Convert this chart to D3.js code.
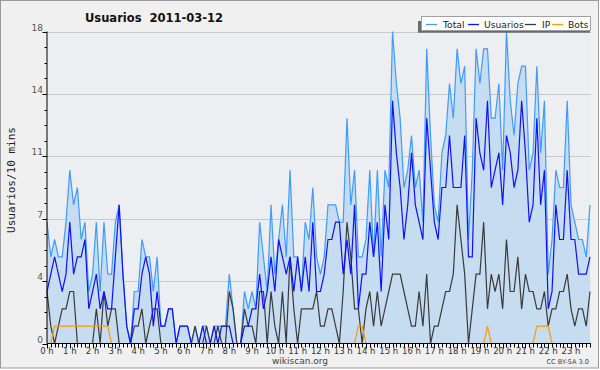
<!DOCTYPE html>
<html><head><meta charset="utf-8">
<script src="https://cdn.jsdelivr.net/npm/d3@7"></script>
<style>body{margin:0;background:#ffffff}svg{display:block}text{font-family:"DejaVu Sans",Verdana,sans-serif}</style>
</head><body><svg id="c" width="600" height="370"></svg>
<script>
const title = "Usuarios  2011-03-12";
const yLabel = "Usuarios/10 mins";
const seriesNames = ["Total", "Usuarios", "IP", "Bots"];
const hourLabels = d3.range(24).map(h => h + " h");
const yTicks = [0, 3.6, 7.2, 10.8, 14.4, 18];

const total = [
 7,5,6,5,5,7,10,8,9,6,7,3,4,7,3,7,4,4,7,8,4,1,0,3,
 3,6,5,5,3,5,1,1,2,2,0,1,1,1,0,1,0,1,1,0,1,1,1,1,
 4,2,0,0,3,2,3,2,7,5,3,8,4,6,8,5,10,5,5,3,7,6,9,5,
 4,5,8,8,8,7,7,13,8,10,5,5,6,10,5,10,5,10,9,18,15,13,9,10,
 12,9,10,7,17,12,8,7,11,12,15,13,17,15,16,6,10,17,15,17,17,13,13,15,
 10,18,14,12,15,16,16,10,11,16,11,14,4,6,10,9,9,14,8,7,6,6,5,8];
const usuarios = [
 3,4,5,4,3,4,7,4,5,5,6,2,3,4,2,3,2,2,5,8,4,1,0,2,
 2,4,5,4,1,3,1,1,2,2,0,1,1,1,0,0,0,1,0,0,1,0,1,1,
 1,0,0,0,1,1,2,2,4,2,3,5,3,6,5,4,5,3,5,3,5,3,7,3,
 3,4,6,6,7,7,4,6,4,8,2,4,4,7,5,7,3,8,6,14,11,9,6,8,
 11,8,7,6,13,10,7,6,9,9,12,9,9,9,12,5,5,13,11,10,14,9,10,11,
 8,12,11,9,10,14,11,7,8,13,8,10,2,3,8,6,6,10,6,6,4,4,4,5];
const ip = [
 3,1,0,1,2,2,3,3,0,0,0,0,0,2,0,3,1,2,2,0,0,0,0,1,
 1,2,0,1,2,2,0,0,0,0,0,0,0,0,0,1,0,0,1,0,0,1,0,0,
 3,2,0,0,2,1,1,0,3,3,0,3,1,0,3,0,5,2,0,2,2,2,2,3,
 1,1,2,2,1,0,3,7,5,2,2,0,2,3,1,3,1,2,3,4,4,4,3,2,
 1,1,3,1,4,0,1,1,2,3,3,4,8,6,4,0,2,4,4,7,2,4,3,4,
 2,6,3,3,5,2,4,3,3,2,2,3,1,2,2,3,3,4,2,1,2,2,1,3];
const bots = [
 0,0,1,1,1,1,1,1,1,1,1,1,1,1,1,1,1,0,0,0,0,0,0,0,
 0,0,0,0,0,0,0,0,0,0,0,0,0,0,0,0,0,0,0,0,0,0,0,0,
 0,0,0,0,0,0,0,0,0,0,0,0,0,0,0,0,0,0,0,0,0,0,0,0,
 0,0,0,0,0,0,0,0,0,0,1,1,0,0,0,0,0,0,0,0,0,0,0,0,
 0,0,0,0,0,0,0,0,0,0,0,0,0,0,0,0,0,0,0,0,1,0,0,0,
 0,0,0,0,0,0,0,0,0,1,1,1,1,0,0,0,0,0,0,0,0,0,0,0];

const colors = {Total:"#3d9cff", Usuarios:"#1010ff", IP:"#3a3a3a", Bots:"#ff9a00"};
const seriesData = {Total: total, Usuarios: usuarios, IP: ip, Bots: bots};

const svg = d3.select("#c");
// outer frame
svg.append("rect").attr("x",0.5).attr("y",0.5).attr("width",598).attr("height",367.5)
  .attr("fill","#f0f0f0").attr("stroke","#9a9a9a");

const x0 = 47, x1 = 591, yb = 343.5, yt = 31.5;
const idx = d3.range(total.length);
const x = d3.scalePoint().domain(idx).range([x0, 590]);
const y = d3.scaleLinear().domain([0, 18]).range([yb, yt]);

// plot background
svg.append("rect").attr("x",x0).attr("y",yt).attr("width",x1-x0).attr("height",yb-yt).attr("fill","#eceef1");

// gridlines
svg.append("g").selectAll("line").data(yTicks.filter(d=>d>0)).join("line")
  .attr("x1",x0).attr("x2",x1).attr("y1",d=>Math.round(y(d))+0.5).attr("y2",d=>Math.round(y(d))+0.5)
  .attr("stroke","#c9c9c9").attr("stroke-width",1);

// area under total
svg.append("path").datum(idx)
  .attr("d", d3.area().x(i=>x(i)).y0(yb).y1(i=>y(total[i])))
  .attr("fill","#c5dcf1");

const line = arr => d3.line().x(i=>x(i)).y(i=>y(arr[i]));
["Total","IP","Usuarios","Bots"].forEach(name=>{
  svg.append("path").datum(idx).attr("d", line(seriesData[name]))
    .attr("fill","none").attr("stroke",colors[name]).attr("stroke-width",1.2)
    .attr("stroke-linejoin","miter");
});

// left axis
const gy = svg.append("g").attr("transform",`translate(${x0},0)`);
gy.append("line").attr("x1",0).attr("x2",0).attr("y1",yt).attr("y2",yb).attr("stroke","#000");
const minorY = d3.range(0, 18.01, 0.9);
gy.selectAll("line.mn").data(minorY).join("line").attr("class","mn")
  .attr("x1",-2.5).attr("x2",0).attr("y1",d=>Math.round(y(d))+0.5).attr("y2",d=>Math.round(y(d))+0.5).attr("stroke","#000");
gy.selectAll("line.mj").data(yTicks).join("line").attr("class","mj")
  .attr("x1",-4.5).attr("x2",0).attr("y1",d=>Math.round(y(d))+0.5).attr("y2",d=>Math.round(y(d))+0.5).attr("stroke","#000");
gy.selectAll("text").data(yTicks).join("text")
  .attr("x",-4).attr("y",d=>y(d)-1).attr("text-anchor","end")
  .attr("font-size",9).attr("fill","#555").text(d=>d3.format(".0f")(d));

// bottom axis
const gx = svg.append("g");
gx.append("line").attr("x1",x0).attr("x2",x1).attr("y1",yb).attr("y2",yb).attr("stroke","#000");
gx.selectAll("line.t").data(idx).join("line").attr("class","t")
  .attr("x1",i=>Math.round(x(i))+0.5).attr("x2",i=>Math.round(x(i))+0.5)
  .attr("y1",yb).attr("y2",i=> i%6===0 ? yb+5 : yb+4).attr("stroke","#000");
gx.selectAll("text").data(hourLabels).join("text")
  .attr("x",(d,h)=>x(h*6)).attr("y",354).attr("text-anchor","middle")
  .attr("font-size",8.5).attr("fill","#333").text(d=>d);

// title
svg.append("text").attr("x",85).attr("y",22).attr("font-size",11.5).attr("font-weight","bold")
  .attr("fill","#111").style("white-space","pre").text(title);

// y label
svg.append("text").attr("transform","translate(15,180) rotate(-90)").attr("text-anchor","middle")
  .style("font-family","'DejaVu Sans Mono',monospace").attr("font-size",11).attr("fill","#222").text(yLabel);

// legend
const lg = svg.append("g");
lg.append("rect").attr("x",418).attr("y",21).attr("width",172).attr("height",11.7).attr("fill","#6a6a6a");
lg.append("rect").attr("x",421.5).attr("y",16.5).attr("width",169).attr("height",14).attr("fill","#fff").attr("stroke","#a0a0a0");
const legPos = [[426,443],[468,484],[525,542],[552,568]];
seriesNames.forEach((n,k)=>{
  lg.append("line").attr("x1",legPos[k][0]).attr("x2",legPos[k][0]+11).attr("y1",24.5).attr("y2",24.5)
    .attr("stroke",colors[n]).attr("stroke-width",1.3);
  lg.append("text").attr("x",legPos[k][1]).attr("y",28).attr("font-size",9.2).attr("fill","#222").text(n);
});

// footer
svg.append("text").attr("x",300).attr("y",364).attr("text-anchor","middle").attr("font-size",9).attr("fill","#444").text("wikiscan.org");
svg.append("text").attr("x",589).attr("y",363.5).attr("text-anchor","end").attr("font-size",6.6).attr("fill","#444").text("CC BY-SA 3.0");
</script></body></html>
